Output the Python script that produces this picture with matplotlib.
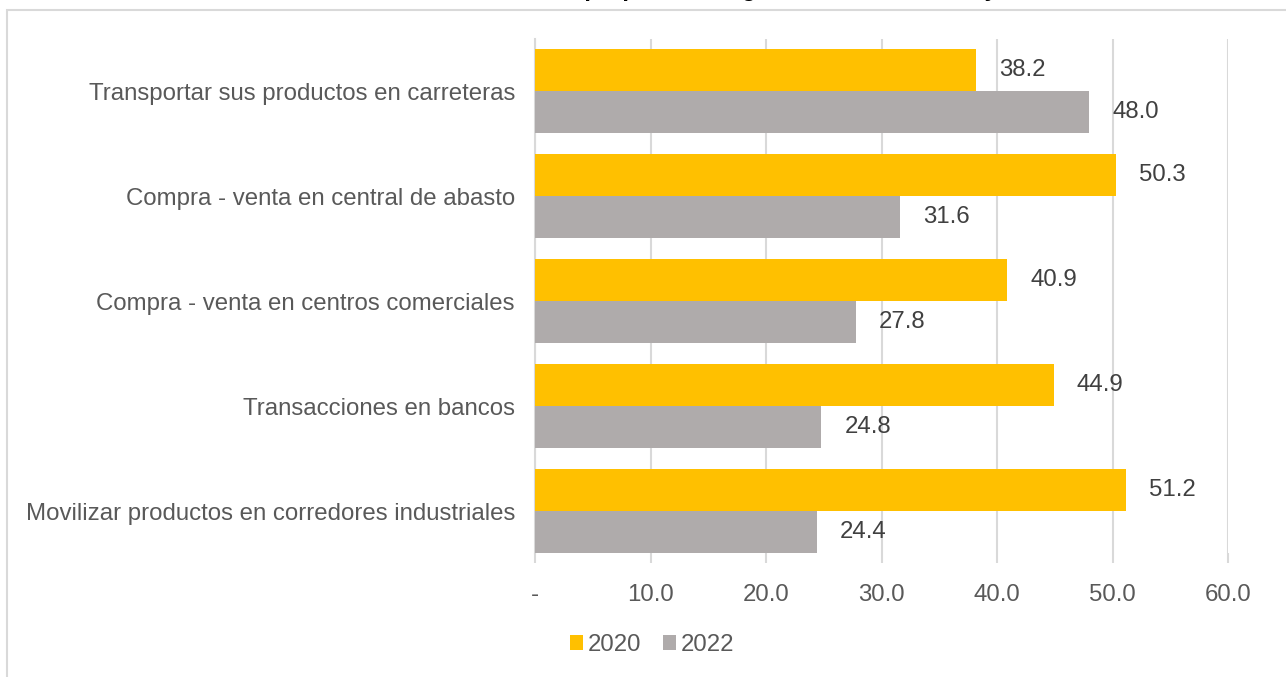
import matplotlib
matplotlib.use("Agg")
import matplotlib.pyplot as plt
from matplotlib.patches import Rectangle
import numpy as np

plt.rcParams['font.family'] = ['Liberation Sans', 'DejaVu Sans']

categorias = ["Transportar sus productos en carreteras",
              "Compra - venta en central de abasto",
              "Compra - venta en centros comerciales",
              "Transacciones en bancos",
              "Movilizar productos en corredores industriales"]
v2020 = [38.2, 50.3, 40.9, 44.9, 51.2]
v2022 = [48.0, 31.6, 27.8, 24.8, 24.4]
xticks = [0, 10, 20, 30, 40, 50, 60]
xlabels = ["-", "10.0", "20.0", "30.0", "40.0", "50.0", "60.0"]

amarillo = "#FFC000"
gris = "#AFABAB"
texto = "#595959"
linea = "#D9D9D9"
fs = 17.3

fig = plt.figure(figsize=(12.86, 6.77), dpi=100)
ax = fig.add_axes([535/1286, 1 - 553/677, (1228 - 535)/1286, (553 - 39)/677])

# marco exterior del grafico
fig.patches.append(Rectangle((6.5/1286, -0.05), 1.1, 1.05 - 9.5/677,
                             transform=fig.transFigure, fill=False,
                             edgecolor=linea, linewidth=1.5))

# titulo (cortado en el original, solo asoman los trazos inferiores)
fig.text(676/1286, 1 + 4.5/677, "Actividades afectadas en proporción según zona, 2020, 2021 y 2022",
         ha='center', va='baseline', fontsize=17, fontweight='bold', color='black')

y = np.arange(len(categorias))[::-1]
h = 0.4
b1 = ax.barh(y + h/2, v2020, height=h, color=amarillo, label="2020", zorder=3)
b2 = ax.barh(y - h/2, v2022, height=h, color=gris, label="2022", zorder=3)

for bars in (b1, b2):
    for b in bars:
        ax.annotate(f"{b.get_width():.1f}", (b.get_width(), b.get_y() + b.get_height()/2),
                    xytext=(16.5, 0), textcoords='offset points', ha='left', va='center',
                    fontsize=fs, color="#404040")

ax.set_xlim(0, 60)
ax.set_ylim(-0.4, 4.5)
ax.set_xticks(xticks)
ax.set_xticklabels(xlabels)
ax.set_yticks(y)
ax.set_yticklabels(categorias)
ax.grid(axis='x', color=linea, linewidth=1.5, zorder=0)
ax.set_axisbelow(True)

for s in ['top', 'right', 'bottom']:
    ax.spines[s].set_visible(False)
ax.spines['left'].set_color(linea)
ax.spines['left'].set_linewidth(1.5)

ax.tick_params(axis='x', length=7.2, width=1.5, color=linea, pad=15, labelsize=fs, labelcolor=texto)
ax.tick_params(axis='y', length=0, pad=14.4, labelsize=fs, labelcolor=texto)

fig.legend(handles=[b1, b2], labels=["2020", "2022"], loc='center',
           bbox_to_anchor=(652/1286, 1 - 645/677), ncol=2, frameon=False,
           fontsize=fs, labelcolor=texto, handlelength=0.55, handleheight=0.55,
           handletextpad=0.2, columnspacing=0.9)

fig.savefig("out.png", dpi=100)
